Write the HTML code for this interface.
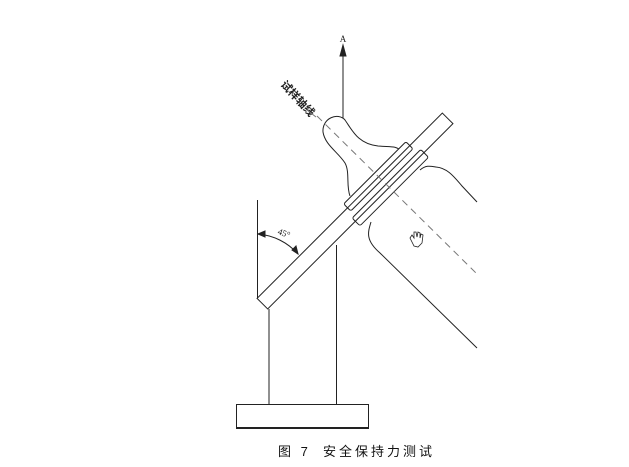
<!DOCTYPE html>
<html><head><meta charset="utf-8"><style>
html,body{margin:0;padding:0;background:#fff;width:629px;height:467px;overflow:hidden}
svg{position:absolute;left:0;top:0}
</style></head><body>
<svg width="629" height="467" viewBox="0 0 629 467" xmlns="http://www.w3.org/2000/svg" fill="none" stroke="#222" stroke-width="1">
<!-- base -->
<rect x="236.5" y="404.5" width="132" height="23" fill="#fff"/>
<line x1="236" y1="428" x2="369" y2="428" stroke-width="2"/>
<line x1="269" y1="309" x2="269" y2="404"/>
<line x1="336.5" y1="245" x2="336.5" y2="404"/>
<line x1="257.5" y1="200" x2="257.5" y2="298"/>
<!-- axis arrow A -->
<line x1="343" y1="52" x2="343" y2="140"/>
<path d="M343 45 L340 56 L346 56 Z" fill="#222"/>
<text x="343" y="42" font-family="Liberation Serif, serif" font-size="9" fill="#222" stroke="none" text-anchor="middle">A</text>
<!-- teether head -->
<path d="M350 196 C346 186 350 172 345 163 C338 152 325 145 323 132 C322 118 338 112 345 120 C352 130 358 144 378 146 C392 147 396 146 400 150" fill="#fff"/>
<!-- bottle -->
<path d="M420 170 C426 165 430 166 436 167 C448 168 455 178 462 186 L477 202"/>
<path d="M371 222 C368 232 365 240 380 253 L477 348"/>
<!-- bar and sleeves -->
<g transform="translate(355,211) rotate(-45)">
<rect x="-131" y="-7.5" width="262" height="15" fill="#fff"/>
<rect x="-3" y="-13" width="88" height="10" rx="2" fill="#fff"/>
<rect x="-7" y="3" width="97" height="11" rx="2" fill="#fff"/>
<line x1="-3" y1="-7.5" x2="85" y2="-7.5"/>
<line x1="-7" y1="7.5" x2="90" y2="7.5"/>
</g>
<!-- dashed specimen axis -->
<line x1="317" y1="116" x2="476" y2="273" stroke="#777" stroke-dasharray="7,5"/>
<!-- 45 degree arc -->
<path d="M258 234 A60 60 0 0 1 298 254"/>
<path d="M258 234 L265 231 L265 237 Z" fill="#222"/>
<path d="M298 254 L292 250 L296 246 Z" fill="#222"/>
<text x="283" y="236" font-family="Liberation Serif, serif" font-size="9" fill="#222" stroke="none" text-anchor="middle" transform="rotate(20 283 236)">45°</text>
<!-- label -->
<text x="0" y="0" font-family="Liberation Sans, Noto Sans CJK SC, sans-serif" font-size="11" font-weight="bold" fill="#222" stroke="none" transform="translate(280,85) rotate(47)">试样轴线</text>
<line x1="307" y1="110" x2="316" y2="117" stroke="#777"/>
<!-- hand cursor (outline) -->
<path d="M410 238 L412 235 L414 238 L414 232 L416 232 L417 237 L418 232 L420 233 L420 238 L421 234 L423 235 L422 243 L418 247 L414 246 Z" stroke="#222" stroke-width="0.8" fill="#fff"/>
<!-- caption -->
<text x="278" y="456" font-family="Liberation Sans, Noto Sans CJK SC, sans-serif" font-size="13" fill="#111" stroke="none" letter-spacing="3">图 7</text>
<text x="323" y="456" font-family="Liberation Sans, Noto Sans CJK SC, sans-serif" font-size="13" fill="#111" stroke="none" letter-spacing="3">安全保持力测试</text>
</svg>
</body></html>
